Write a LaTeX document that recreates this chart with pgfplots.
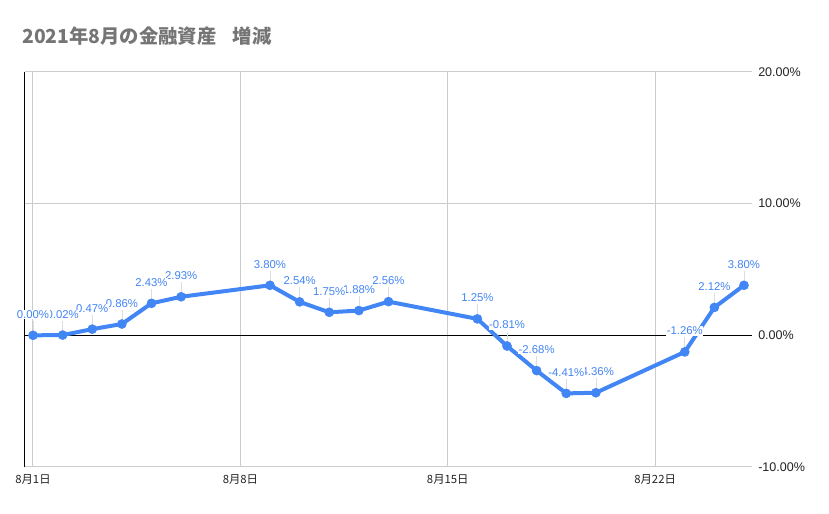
\documentclass[border=0pt]{standalone}
\usepackage{fontspec}
\setmainfont{Liberation Sans}
\newfontfamily\cjk{Noto Sans CJK JP}
\usepackage{pgfplots}
\usepackage{pgfplotstable}
\pgfplotsset{compat=1.18}
\definecolor{gblue}{HTML}{4285F4}
\definecolor{ttl}{HTML}{757575}
\definecolor{gridc}{HTML}{CCCCCC}
\definecolor{tickc}{HTML}{222222}
\definecolor{leader}{HTML}{DDDDDD}
\pgfplotstableread{
day val
1 0.00
2 0.02
3 0.47
4 0.86
5 2.43
6 2.93
9 3.80
10 2.54
11 1.75
12 1.88
13 2.56
16 1.25
17 -0.81
18 -2.68
19 -4.41
20 -4.36
23 -1.26
24 2.12
25 3.80
}\datatable
\pgfplotstableread{
day val
25 3.80
24 2.12
23 -1.26
20 -4.36
19 -4.41
18 -2.68
17 -0.81
16 1.25
13 2.56
12 1.88
11 1.75
10 2.54
9 3.80
6 2.93
5 2.43
4 0.86
3 0.47
2 0.02
1 0.00
}\revtable
\begin{document}
\begin{tikzpicture}[x=1pt,y=1pt]
\useasboundingbox (0,0) rectangle (621.75,385.5);
\node[anchor=base west, inner sep=0, text=ttl, font=\cjk\bfseries\fontsize{14.5}{17}\selectfont] at (16.5,352.5) {2021年8月の金融資産\hspace{0.85em}増減};
\begin{axis}[
  at={(18.75pt,35.25pt)}, anchor=south west,
  scale only axis, width=545.25pt, height=296.25pt,
  xmin=0.73, xmax=25.27, ymin=-10, ymax=20,
  xtick={1,8,15,22}, xticklabels={8月1日,8月8日,8月15日,8月22日},
  ytick={-10,0,10,20},
  yticklabel pos=right,
  yticklabel={\pgfmathprintnumber[fixed,fixed zerofill,precision=2]{\tick}\%},
  /pgf/number format/assume math mode=true,
  grid=major, major grid style={gridc, line width=0.75pt},
  major tick length=0,
  axis line style={draw=none},
  extra y ticks={0}, extra y tick labels={},
  extra y tick style={grid=major, major grid style={black, line width=0.75pt}},
  extra x ticks={0.73}, extra x tick labels={},
  extra x tick style={grid=major, major grid style={black, line width=0.75pt}},
  xticklabel style={font=\cjk\fontsize{8.5}{9}\selectfont, text=tickc, anchor=center, yshift=-9.75pt, inner sep=0},
  yticklabel style={font=\fontsize{9.4}{10}\selectfont, text=tickc, anchor=west, xshift=4.5pt, inner sep=0},
  clip=false,
]
\addplot[draw=none, mark=none, forget plot,
  error bars/.cd, y dir=plus, y fixed=1.1, error mark=none,
  error bar style={draw=leader, line width=0.5pt}] table[x=day, y=val] {\datatable};
\addplot[draw=none, mark=none, forget plot,
  nodes near coords={\pgfmathprintnumber[fixed,fixed zerofill,precision=2]{\pgfplotspointmeta}\%},
  every node near coord/.append style={anchor=base, yshift=12.75pt, inner sep=0.4pt, fill=white, text=gblue, font=\fontsize{8.5}{9}\selectfont}]
  table[x=day, y=val] {\revtable};
\addplot[gblue, line width=3pt, line join=round, mark=*, mark size=3.4pt,
  mark options={solid, fill=gblue, draw=gblue, line width=0.4pt}] table[x=day, y=val] {\datatable};
\end{axis}
\end{tikzpicture}
\end{document}
